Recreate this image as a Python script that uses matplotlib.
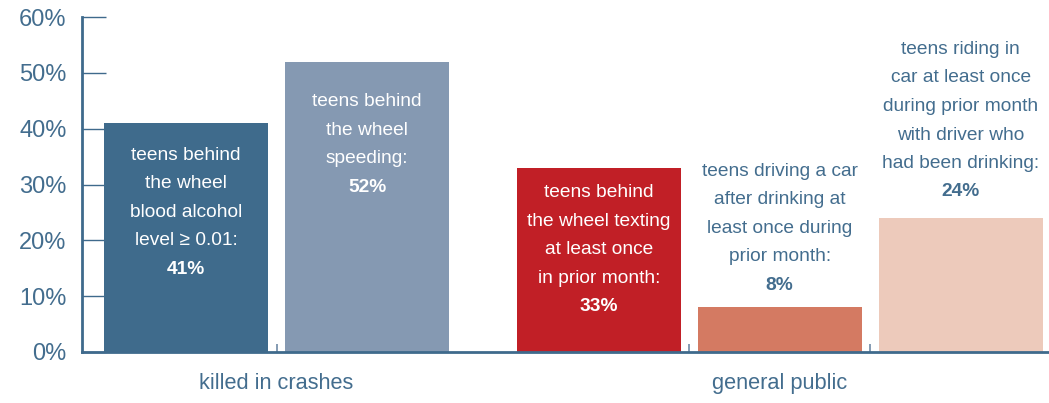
import matplotlib
matplotlib.use("Agg")
import matplotlib.pyplot as plt
from matplotlib.ticker import FuncFormatter
from matplotlib import font_manager

# ---- data ----
groups = ["killed in crashes", "general public"]
group_sizes = [2, 3]
values = [41, 52, 33, 8, 24]
bar_labels = [
    ["teens behind", "the wheel", "blood alcohol", "level \u2265 0.01:"],
    ["teens behind", "the wheel", "speeding:"],
    ["teens behind", "the wheel texting", "at least once", "in prior month:"],
    ["teens driving a car", "after drinking at", "least once during", "prior month:"],
    ["teens riding in", "car at least once", "during prior month", "with driver who", "had been drinking:"],
]
value_labels = ["41%", "52%", "33%", "8%", "24%"]
label_inside = [True, True, True, False, False]
colors = ["#3f6b8c", "#8599b2", "#c11f26", "#d47a62", "#edcabb"]
yticks = [0, 10, 20, 30, 40, 50, 60]

# ---- font choice (condensed look if available) ----
names = {f.name for f in font_manager.fontManager.ttflist}
if "Liberation Sans Narrow" in names:
    FAM = ["Liberation Sans Narrow", "Liberation Sans", "DejaVu Sans"]
    k = 1.0
else:
    FAM = ["Liberation Sans", "DejaVu Sans"]
    k = 0.87
plt.rcParams["font.family"] = FAM
AX = "#3f6a8c"
TXT = "#436d8e"

W, H, DPI = 1049, 403, 100
fig = plt.figure(figsize=(W / DPI, H / DPI), dpi=DPI)
ax = fig.add_axes([82 / W, 1 - 352 / H, 1 - 82 / W, (352 - 17) / H])

# positions: step 1 within group, wider gap between groups
gap = 1.28
pos = []
x = 0.0
seps = []
centers = []
for gi, n in enumerate(group_sizes):
    start = x
    for j in range(n):
        pos.append(x)
        if j < n - 1:
            seps.append(x + 0.5)
        x += 1
    centers.append((start + x - 1) / 2)
    x += gap - 1

width = 0.906
ax.bar(pos, values, width=width, color=colors, zorder=2)

ax.set_ylim(0, 60)
ax.set_xlim(pos[0] - 0.575, pos[0] + 4.768)

for s in ["top", "right"]:
    ax.spines[s].set_visible(False)
for s in ["left", "bottom"]:
    ax.spines[s].set_color(AX)
    ax.spines[s].set_linewidth(2)
    ax.spines[s].set_zorder(3)

ax.set_yticks(yticks)
ax.yaxis.set_major_formatter(FuncFormatter(lambda v, p: f"{int(v)}%"))
ax.tick_params(axis="y", direction="in", length=17.5, width=1, color=AX,
               labelsize=17, labelcolor=TXT, pad=11)

ax.xaxis.remove_overlapping_locs = False
ax.set_xticks(centers)
ax.set_xticklabels(groups)
ax.set_xticks(seps, minor=True)
ax.tick_params(axis="x", which="major", length=0, labelsize=18 * k,
               labelcolor=TXT, pad=15)
ax.tick_params(axis="x", which="minor", direction="in", length=6, width=1.2,
               color="#6f8aa6")

# ---- bar annotations ----
LS = 28.5  # line spacing in pixels
first_offset = [32, 40, 25]   # px below bar top (inside labels)
above_offset = [None, None, None, 22, 26]  # px above bar top for last line
fs = 15.8 * k
for i, (xp, v) in enumerate(zip(pos, values)):
    lines = bar_labels[i]
    n = len(lines)
    if label_inside[i]:
        col = "white"
        y0 = -first_offset[i]
    else:
        col = TXT
        y0 = above_offset[i] + n * LS
    for j, t in enumerate(lines):
        ax.annotate(t, (xp, v), xytext=(0, y0 - j * LS), textcoords="offset pixels",
                    ha="center", va="center", color=col, fontsize=fs, zorder=4)
    ax.annotate(value_labels[i], (xp, v), xytext=(0, y0 - n * LS),
                textcoords="offset pixels", ha="center", va="center", color=col,
                fontsize=fs, fontweight="bold", zorder=4)

fig.savefig("out.png", dpi=DPI)
